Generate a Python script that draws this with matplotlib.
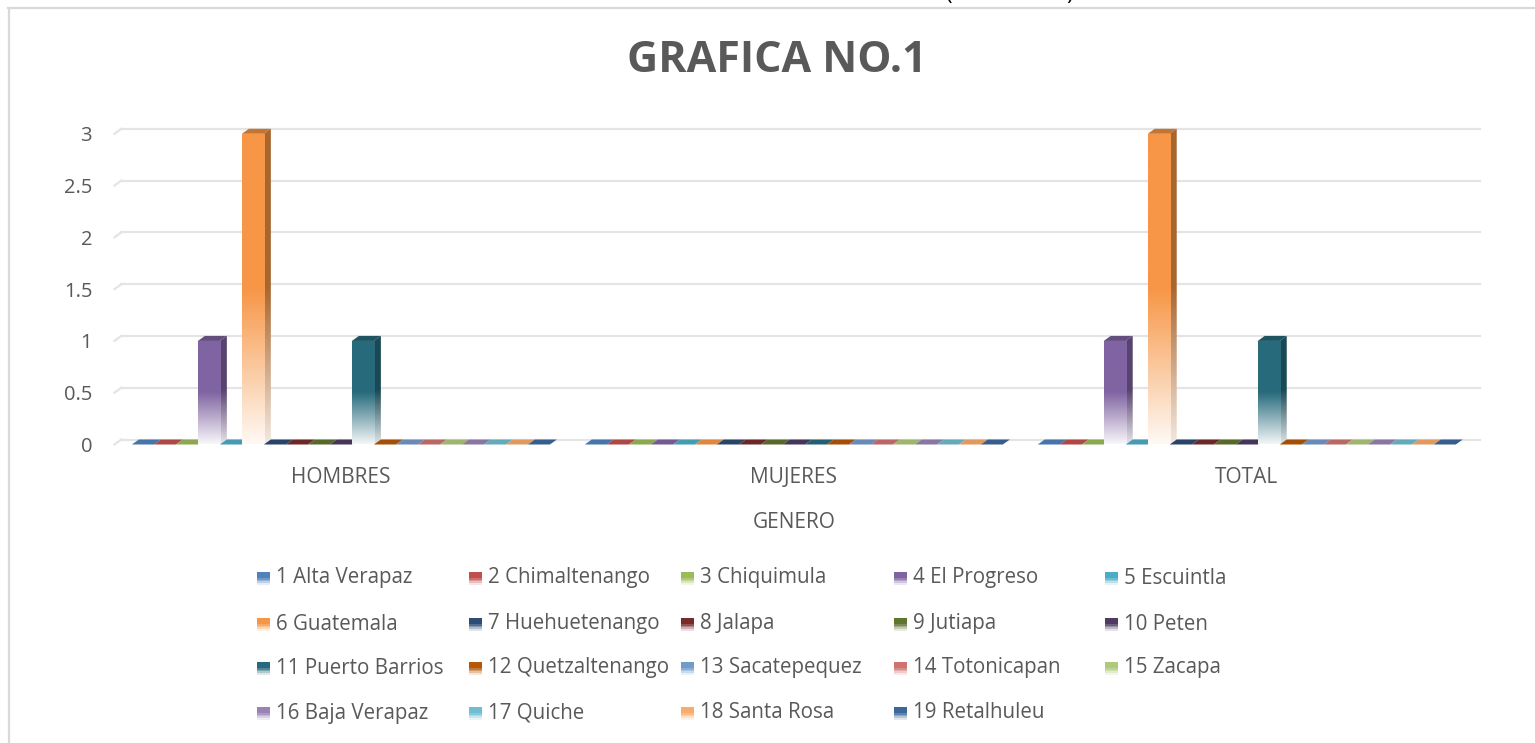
import matplotlib
matplotlib.use('Agg')
import matplotlib.pyplot as plt
import numpy as np
from matplotlib.patches import Polygon, Rectangle
from matplotlib.colors import to_rgb
from matplotlib.lines import Line2D

W, H = 1535, 743

categories = ['HOMBRES', 'MUJERES', 'TOTAL']
departamentos = ['1 Alta Verapaz', '2 Chimaltenango', '3 Chiquimula', '4 El Progreso',
                 '5 Escuintla', '6 Guatemala', '7 Huehuetenango', '8 Jalapa',
                 '9 Jutiapa', '10 Peten', '11 Puerto Barrios', '12 Quetzaltenango',
                 '13 Sacatepequez', '14 Totonicapan', '15 Zacapa', '16 Baja Verapaz',
                 '17 Quiche', '18 Santa Rosa', '19 Retalhuleu']
hombres = [0, 0, 0, 1, 0, 3, 0, 0, 0, 0, 1, 0, 0, 0, 0, 0, 0, 0, 0]
mujeres = [0, 0, 0, 0, 0, 0, 0, 0, 0, 0, 0, 0, 0, 0, 0, 0, 0, 0, 0]
total = [0, 0, 0, 1, 0, 3, 0, 0, 0, 0, 1, 0, 0, 0, 0, 0, 0, 0, 0]
colores = ['#4F81BD', '#C0504D', '#9BBB59', '#8064A2', '#4BACC6', '#F79646',
           '#2C4D75', '#772C2A', '#5F7530', '#4D3B62', '#276A7C', '#B65708',
           '#729ACA', '#CD7371', '#AFC97A', '#9983B5', '#6FBDD1', '#F9AB6B',
           '#3C679A']
yticks = [0, 0.5, 1, 1.5, 2, 2.5, 3]
ytick_labels = ['0', '0.5', '1', '1.5', '2', '2.5', '3']

TXT = '#595959'
plt.rcParams['font.family'] = ['Open Sans', 'DejaVu Sans']


def fade(rgb, n=120, solid=0.5, floor=0.06):
    # top rows solid, bottom half fading to white
    f = np.linspace(1, 0, n)
    t = np.clip(f / solid, 0, 1)
    t = floor + (1 - floor) * t
    c = np.array(rgb)
    return 1 - t[:, None, None] * (1 - c[None, None, :])


def shade(rgb, k):
    return tuple(np.array(rgb) * k)


fig = plt.figure(figsize=(W / 100, H / 100), dpi=100)

# plot area in pixels (front plane)
x_left, x_right = 114.4, 1473.2
y_zero, y_three = 444.5, 133.8
ppu = (y_zero - y_three) / 3
ytop = 3.2
ax = fig.add_axes([x_left / W, 1 - y_zero / H, (x_right - x_left) / W, ytop * ppu / H])
ax.set_xlim(-0.5, 2.5)
ax.set_ylim(0, ytop)
for s in ax.spines.values():
    s.set_visible(False)

dx = 7 / (x_right - x_left) * 3
dy = 5 / ppu

# back wall gridlines
for v in yticks:
    ax.plot([-0.5, -0.5 + dx], [v, v + dy], color='#E4E4E4', lw=1.6, zorder=1, clip_on=False)
    ax.plot([-0.5 + dx, 2.5 + dx], [v + dy, v + dy], color='#E4E4E4', lw=1.6, zorder=1, clip_on=False)

series = [[hombres[i], mujeres[i], total[i]] for i in range(len(departamentos))]
group = 0.923
w = group / len(departamentos)
x = np.arange(len(categories))

z = 2
for i, vals in enumerate(series):
    rgb = to_rgb(colores[i])
    bars = ax.bar(x - group / 2 + i * w, vals, width=w, align='edge',
                  facecolor='none', edgecolor='none', zorder=z)
    for b in bars:
        x0, h = b.get_x(), b.get_height()
        x1 = x0 + w
        top = Polygon([(x0, h), (x1, h), (x1 + dx, h + dy), (x0 + dx, h + dy)],
                      closed=True, facecolor=shade(rgb, 0.78 if h > 0 else 0.9),
                      edgecolor='none', zorder=z, clip_on=False)
        ax.add_patch(top)
        if h > 0:
            side = Polygon([(x1, 0), (x1 + dx, dy), (x1 + dx, h + dy), (x1, h)],
                           closed=True, facecolor='none', edgecolor='none', zorder=z)
            ax.add_patch(side)
            im = ax.imshow(fade(shade(rgb, 0.68), floor=0.15), extent=(x1, x1 + dx, 0, h + dy),
                           aspect='auto', interpolation='bilinear', zorder=z)
            im.set_clip_path(side)
            im2 = ax.imshow(fade(rgb), extent=(x0, x1, 0, h), aspect='auto',
                            interpolation='bilinear', zorder=z + 0.1)
            im2.set_clip_path(b)
        z += 0.2

ax.set_xlim(-0.5, 2.5)
ax.set_ylim(0, ytop)

ax.set_yticks(yticks)
ax.set_yticklabels(ytick_labels)
ax.set_xticks(x)
ax.set_xticklabels(categories)
ax.tick_params(axis='y', length=0, pad=16, labelsize=14.5, labelcolor=TXT)
ax.tick_params(axis='x', length=0, pad=16, labelsize=15, labelcolor=TXT)

fig.text(793.8 / W, 1 - 522 / H, 'GENERO', ha='center', va='center', fontsize=15, color=TXT)
fig.text(777 / W, 1 - 61 / H, 'GRAFICA NO.1', ha='center', va='center', fontsize=31,
         fontweight='bold', color=TXT)

# cut-off heading above the chart
fig.text(945 / W, 1.0, '(', ha='left', va='baseline', fontsize=16, color='black')
fig.text(1066 / W, 1.0, ')', ha='left', va='baseline', fontsize=16, color='black')

# chart border
fig.add_artist(Line2D([8.5 / W, 8.5 / W], [0, 1 - 8 / H], color='#D9D9D9', lw=1.6))
fig.add_artist(Line2D([8 / W, 1], [1 - 8 / H, 1 - 8 / H], color='#D9D9D9', lw=1.6))

# legend
col_x = [257, 469, 681, 894, 1105]
row_y = [578, 624, 668, 713]
msz = 13
for i, name in enumerate(departamentos):
    cx = col_x[i % 5]
    cy = row_y[i // 5]
    rgb = to_rgb(colores[i])
    g = fade(rgb, n=8, solid=0.55, floor=0.15)[:, 0, :]
    for k in range(8):
        yb = cy - msz / 2 + k * msz / 8
        fig.add_artist(Rectangle((cx / W, 1 - (yb + msz / 8) / H), msz / W, msz / 8 / H,
                                 transform=fig.transFigure, facecolor=g[k],
                                 edgecolor='none', lw=0))
    fig.text((cx + 19) / W, 1 - cy / H, name, ha='left', va='center', fontsize=14.8, color=TXT)

fig.savefig('out.png', dpi=100)
